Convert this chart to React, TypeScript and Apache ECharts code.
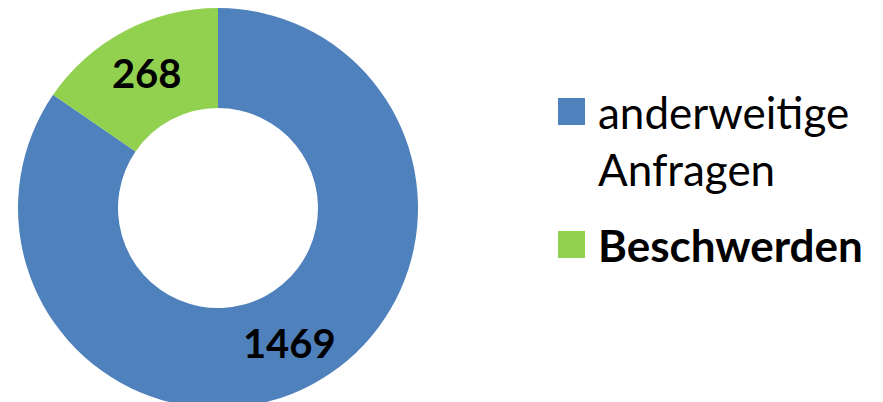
import React, { useEffect, useRef } from 'react';
import * as echarts from 'echarts';

const categories = ['anderweitige Anfragen', 'Beschwerden'];
const values = [1469, 268];
const colors = ['#4F81BD', '#92D050'];
const legendLines = [['anderweitige', 'Anfragen'], ['Beschwerden']];

const FONT = 'Lato, "Open Sans", sans-serif';

export default function App() {
  const ref = useRef<HTMLDivElement>(null);
  useEffect(() => {
    const chart = echarts.init(ref.current!, null, { renderer: 'svg' });
    const LH = 57;
    const fmt = (n: string) => {
      const lines = legendLines[categories.indexOf(n)];
      // leading blank line keeps the icon level with the first text line
      return lines.length > 1 ? ['', ...lines].join('\n') : lines.join('\n');
    };
    chart.setOption({
      animation: false,
      backgroundColor: '#ffffff',
      legend: [
        {
          orient: 'vertical',
          left: 558,
          top: 26,
          padding: 0,
          icon: 'rect',
          itemWidth: 27,
          itemHeight: 27,
          selectedMode: false,
          formatter: fmt,
          data: [
            {
              name: categories[0],
              textStyle: {
                fontFamily: FONT,
                fontSize: 44,
                fontWeight: 'normal',
                color: '#000',
                lineHeight: LH,
                padding: [0, 0, 0, 8],
              },
            },
          ],
        },
        {
          orient: 'vertical',
          left: 558,
          top: 216,
          padding: 0,
          icon: 'rect',
          itemWidth: 27,
          itemHeight: 27,
          selectedMode: false,
          formatter: fmt,
          data: [
            {
              name: categories[1],
              textStyle: {
                fontFamily: FONT,
                fontSize: 44,
                fontWeight: 'bold',
                color: '#000',
                lineHeight: LH,
                padding: [0, 0, 0, 8],
              },
            },
          ],
        },
      ],
      series: [
        {
          type: 'pie',
          center: [218, 208],
          radius: [100, 200],
          startAngle: 90,
          clockwise: true,
          silent: true,
          emphasis: { disabled: true },
          label: {
            show: true,
            position: 'inside',
            formatter: '{c}',
            fontFamily: FONT,
            fontSize: 40,
            fontWeight: 'bold',
            color: '#000',
          },
          labelLine: { show: false },
          itemStyle: { borderWidth: 0 },
          data: categories.map((name, i) => ({
            name,
            value: values[i],
            itemStyle: { color: colors[i] },
          })),
        },
      ],
    });
    return () => chart.dispose();
  }, []);
  return (
    <div
      ref={ref}
      style={{ position: 'fixed', left: 0, top: 0, width: 883, height: 402 }}
    />
  );
}
